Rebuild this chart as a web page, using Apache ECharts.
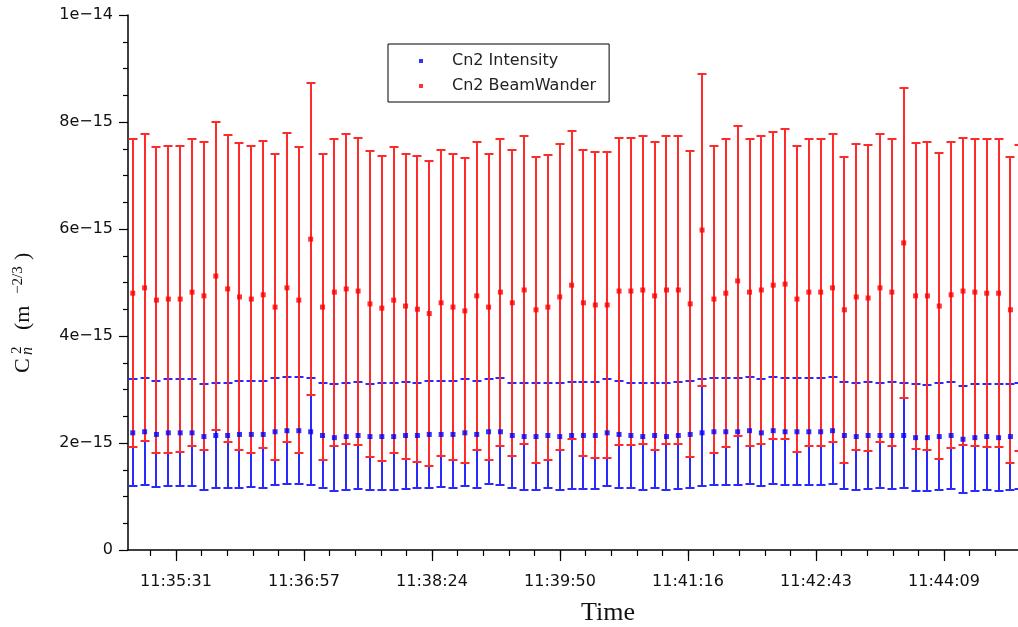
<!DOCTYPE html>
<html>
<head>
<meta charset="utf-8">
<script src="https://cdn.jsdelivr.net/npm/echarts@6/dist/echarts.min.js"></script>
<style>
html,body{margin:0;padding:0;background:#fff;}
#chart{width:1018px;height:627px;}
</style>
</head>
<body>
<div id="chart"></div>
<script>
// Sample times (hh:mm:ss)
var times = [
 '11:35:02','11:35:10','11:35:18','11:35:26','11:35:34','11:35:42','11:35:50','11:35:58','11:36:06','11:36:14',
 '11:36:22','11:36:30','11:36:38','11:36:46','11:36:54','11:37:02','11:37:10','11:37:18','11:37:26','11:37:34',
 '11:37:42','11:37:50','11:37:58','11:38:06','11:38:14','11:38:22','11:38:30','11:38:38','11:38:46','11:38:54',
 '11:39:02','11:39:10','11:39:18','11:39:26','11:39:34','11:39:42','11:39:50','11:39:58','11:40:06','11:40:14',
 '11:40:22','11:40:30','11:40:38','11:40:46','11:40:54','11:41:02','11:41:10','11:41:18','11:41:26','11:41:34',
 '11:41:42','11:41:50','11:41:58','11:42:06','11:42:14','11:42:22','11:42:30','11:42:38','11:42:46','11:42:54',
 '11:43:02','11:43:10','11:43:18','11:43:26','11:43:34','11:43:42','11:43:50','11:43:58','11:44:06','11:44:14',
 '11:44:22','11:44:30','11:44:38','11:44:46','11:44:54','11:45:00'
];
// Cn2 BeamWander: mean and half error bar, in units of 1e-15 m^-2/3
var beamMean = [
 4.80,4.90,4.67,4.69,4.69,4.82,4.75,5.12,4.88,4.73,
 4.69,4.77,4.54,4.90,4.67,5.81,4.54,4.82,4.88,4.84,
 4.60,4.52,4.67,4.56,4.50,4.42,4.62,4.54,4.47,4.75,
 4.54,4.82,4.62,4.86,4.49,4.54,4.73,4.95,4.62,4.58,
 4.58,4.84,4.84,4.86,4.75,4.86,4.86,4.60,5.98,4.69,
 4.80,5.03,4.82,4.86,4.95,4.97,4.69,4.82,4.82,4.90,
 4.49,4.73,4.71,4.90,4.82,5.74,4.75,4.75,4.56,4.77,
 4.84,4.82,4.80,4.80,4.49,4.71
];
var beamErr = [
 2.88,2.87,2.86,2.87,2.86,2.87,2.88,2.88,2.87,2.87,
 2.87,2.87,2.86,2.89,2.86,2.92,2.86,2.87,2.89,2.87,
 2.86,2.85,2.86,2.85,2.86,2.85,2.86,2.86,2.85,2.88,
 2.86,2.87,2.86,2.87,2.86,2.85,2.86,2.88,2.86,2.86,
 2.86,2.87,2.87,2.87,2.88,2.87,2.87,2.86,2.92,2.87,
 2.88,2.89,2.87,2.87,2.87,2.89,2.86,2.87,2.87,2.88,
 2.86,2.86,2.86,2.88,2.87,2.90,2.86,2.88,2.86,2.86,
 2.87,2.87,2.88,2.88,2.86,2.86
];
// Cn2 Intensity: mean and half error bar, in units of 1e-15 m^-2/3
var intMean = [
 2.19,2.21,2.16,2.19,2.19,2.19,2.12,2.14,2.14,2.16,
 2.16,2.16,2.21,2.23,2.23,2.21,2.14,2.10,2.12,2.14,
 2.12,2.12,2.12,2.14,2.14,2.16,2.16,2.16,2.19,2.16,
 2.21,2.21,2.14,2.12,2.12,2.14,2.12,2.14,2.14,2.14,
 2.19,2.16,2.14,2.12,2.14,2.12,2.14,2.16,2.19,2.21,
 2.21,2.21,2.23,2.19,2.23,2.21,2.21,2.21,2.21,2.23,
 2.14,2.12,2.14,2.14,2.14,2.14,2.10,2.10,2.12,2.14,
 2.07,2.10,2.12,2.10,2.12,2.13
];
var intErr = [
 1.00,1.00,0.99,1.00,1.00,1.00,0.99,0.99,0.99,1.00,
 0.99,1.00,1.00,1.00,1.00,1.00,0.99,1.00,1.00,1.00,
 0.99,1.00,1.00,1.00,0.99,1.00,0.99,1.00,1.00,1.00,
 0.98,1.00,0.99,1.00,1.00,0.99,1.00,1.00,1.00,1.00,
 1.00,1.00,0.99,1.00,0.99,1.00,1.00,1.00,1.00,1.00,
 1.00,1.00,1.00,1.00,1.00,1.00,1.00,1.00,1.00,1.00,
 1.00,1.00,1.00,0.99,1.00,0.99,1.00,0.99,1.00,1.00,
 1.00,1.00,0.99,1.00,0.99,0.99
];
var xTickLabels = ['11:35:31','11:36:57','11:38:24','11:39:50','11:41:16','11:42:43','11:44:09'];
var yTickLabels = {0:'0', 2:'2e\u221215', 4:'4e\u221215', 6:'6e\u221215', 8:'8e\u221215', 10:'1e\u221214'};

// ---- axis set-up (seconds since midnight) ----
function sec(t){ var p=t.split(':'); return (+p[0])*3600+(+p[1])*60+(+p[2]); }
var X_MIN = 41698.8, X_MAX = 42299.1;
var TICK0 = 41731.2, TICK_STEP = 259/3;
var majorVals = xTickLabels.map(function(_, i){ return TICK0 + i*TICK_STEP; });
var minorVals = [];
for (var v = TICK0 - TICK_STEP; v <= X_MAX; v += TICK_STEP/5) { if (v >= X_MIN) minorVals.push(v); }

var xs = times.map(sec);
var beamPts = xs.map(function(x,i){ return [x, beamMean[i]]; });
var intPts  = xs.map(function(x,i){ return [x, intMean[i]]; });
var beamBars = xs.map(function(x,i){ return [x, beamMean[i]-beamErr[i], beamMean[i]+beamErr[i]]; });
var intBars  = xs.map(function(x,i){ return [x, intMean[i]-intErr[i], intMean[i]+intErr[i]]; });

function errRender(color){
  return function(params, api){
    var x = api.value(0);
    var lo = api.coord([x, api.value(1)]);
    var hi = api.coord([x, api.value(2)]);
    var cx = Math.round(lo[0]);
    var yl = Math.round(lo[1]), yh = Math.round(hi[1]);
    var hw = 4.5;
    var st = {stroke: color, lineWidth: 2};
    return {type:'group', children:[
      {type:'line', shape:{x1:cx, y1:yl, x2:cx, y2:yh}, style:st},
      {type:'line', shape:{x1:cx-hw, y1:yl, x2:cx+hw, y2:yl}, style:st},
      {type:'line', shape:{x1:cx-hw, y1:yh, x2:cx+hw, y2:yh}, style:st}
    ]};
  };
}

var labelFont = {fontFamily:'DejaVu Sans', fontSize:16, color:'#111'};
var chart = echarts.init(document.getElementById('chart'), null, {renderer:'canvas'});
chart.setOption({
  animation:false,
  backgroundColor:'#fff',
  grid:{left:128, right:0, top:15, bottom:77},
  xAxis:[{
    type:'value', min:X_MIN, max:X_MAX, position:'bottom',
    axisLine:{show:true, lineStyle:{color:'#000', width:1.5}},
    axisTick:{show:true, length:11, customValues:majorVals, lineStyle:{color:'#000', width:1.2}},
    axisLabel:{show:true, customValues:majorVals, margin:24,
      formatter:function(v){ var i = Math.round((v-TICK0)/TICK_STEP); return xTickLabels[i] || ''; },
      fontFamily:labelFont.fontFamily, fontSize:labelFont.fontSize, color:labelFont.color},
    splitLine:{show:false}
  },{
    type:'value', min:X_MIN, max:X_MAX, position:'bottom', offset:0,
    axisLine:{show:false},
    axisTick:{show:true, length:6, customValues:minorVals, lineStyle:{color:'#000', width:1.2}},
    axisLabel:{show:false},
    splitLine:{show:false}
  }],
  yAxis:{
    type:'value', min:0, max:10, interval:2,
    axisLine:{show:true, lineStyle:{color:'#000', width:1.5}},
    axisTick:{show:true, length:9, lineStyle:{color:'#000', width:1.2}},
    minorTick:{show:true, splitNumber:4, length:5, lineStyle:{color:'#000', width:1.2}},
    axisLabel:{margin:15, formatter:function(v){ return yTickLabels[Math.round(v)] || ''; },
      fontFamily:labelFont.fontFamily, fontSize:labelFont.fontSize, color:labelFont.color},
    splitLine:{show:false}, minorSplitLine:{show:false}
  },
  legend:{
    data:['Cn2 Intensity','Cn2 BeamWander'],
    orient:'vertical', left:388, top:44,
    padding:[7,13,6,31], itemGap:5, itemWidth:4, itemHeight:4, icon:'rect',
    borderColor:'#000', borderWidth:1, backgroundColor:'#fff',
    textStyle:{fontFamily:'DejaVu Sans', fontSize:16, color:'#222', lineHeight:20, padding:[0,0,0,24]},
    selectedMode:false
  },
  series:[
    {name:'Intensity bars', type:'custom', xAxisIndex:0, renderItem:errRender('#2a2aff'), data:intBars, clip:false, z:2,
     encode:{x:0, y:[1,2]}},
    {name:'BeamWander bars', type:'custom', xAxisIndex:0, renderItem:errRender('#ff2a2a'), data:beamBars, clip:false, z:3,
     encode:{x:0, y:[1,2]}},
    {name:'Cn2 Intensity', type:'scatter', xAxisIndex:0, data:intPts, symbol:'rect', symbolSize:5,
     itemStyle:{color:'#0000ff'}, z:4, clip:true},
    {name:'Cn2 BeamWander', type:'scatter', xAxisIndex:0, data:beamPts, symbol:'rect', symbolSize:5,
     itemStyle:{color:'#ff0000'}, z:5, clip:true}
  ],
  graphic:[
    {type:'group', x:23, y:373, rotation:Math.PI/2, children:[
      {type:'text', x:0, y:0, style:{text:'C', font:'22px "Liberation Serif"', fill:'#111', verticalAlign:'middle'}},
      {type:'text', x:19, y:-6, style:{text:'2', font:'15px "Liberation Serif"', fill:'#111', verticalAlign:'middle'}},
      {type:'text', x:18, y:5, style:{text:'n', font:'italic 16px "Liberation Serif"', fill:'#111', verticalAlign:'middle'}},
      {type:'text', x:43, y:0, style:{text:'(m', font:'22px "Liberation Serif"', fill:'#111', verticalAlign:'middle'}},
      {type:'text', x:79, y:-5, style:{text:'\u22122/3', font:'15px "Liberation Serif"', fill:'#111', verticalAlign:'middle'}},
      {type:'text', x:113, y:0, style:{text:')', font:'22px "Liberation Serif"', fill:'#111', verticalAlign:'middle'}}
    ]},
    {type:'text', x:608, y:613, style:{text:'Time', font:'26px "Liberation Serif"', fill:'#111', align:'center', verticalAlign:'middle'}}
  ]
});
</script>
</body>
</html>
